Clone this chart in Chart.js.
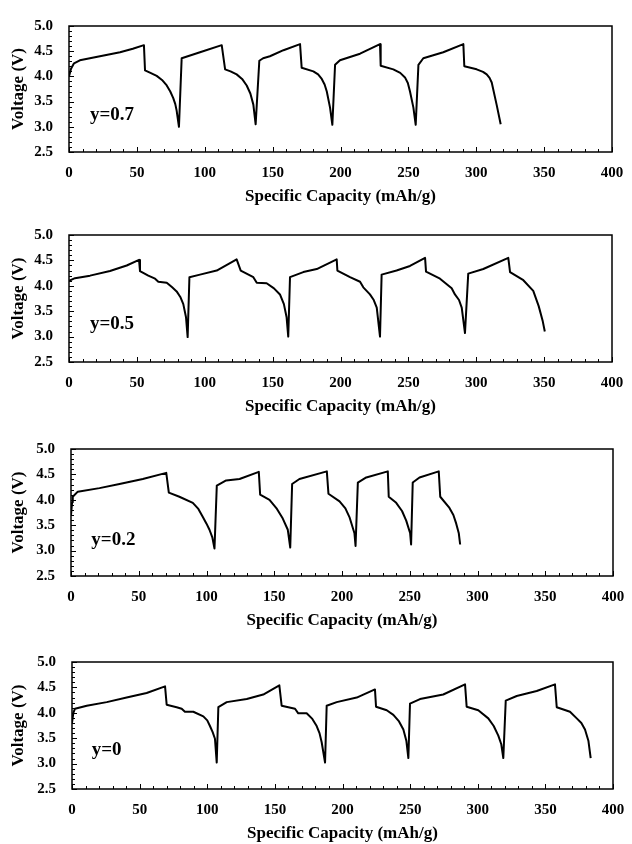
<!DOCTYPE html>
<html>
<head>
<meta charset="utf-8">
<script src="https://cdn.jsdelivr.net/npm/chart.js@4.4.1/dist/chart.umd.min.js"></script>
<style>
  body { margin: 0; background: #fff; width: 632px; height: 844px; position: relative; overflow: hidden; }
  .panel { position: absolute; left: 0; width: 632px; }
</style>
</head>
<body>
<div class="panel" id="box1"><canvas id="chart1"></canvas></div>
<div class="panel" id="box2"><canvas id="chart2"></canvas></div>
<div class="panel" id="box3"><canvas id="chart3"></canvas></div>
<div class="panel" id="box4"><canvas id="chart4"></canvas></div>
<script>
// valeurs : capacite (mAh/g) et tension (V)
const capY07 = [0, 1.5, 3.7, 8, 22.8, 37.6, 47, 55.2, 56, 60, 64.6, 68.5, 72, 74.6, 76.8, 78.3, 79.3, 81,
  83, 96.5, 112.5, 115, 119, 123.5, 127.5, 130.9, 133.6, 135.8, 137.5,
  140.2, 143, 148, 158, 170.2, 171.4, 180, 183.5, 186.2, 188.3, 189.9, 192.3, 194,
  196, 199.6, 214.4, 229.1, 229.6, 238.9, 244, 247.5, 249.6, 251.2, 253.7, 255.4,
  257.4, 261, 275.7, 290.5, 291.2, 300.3, 305, 307.7, 309.8, 311.4, 315, 318];
const voltY07 = [4.00, 4.15, 4.26, 4.32, 4.40, 4.48, 4.55, 4.62, 4.12, 4.07, 4.01, 3.93, 3.82, 3.70, 3.57, 3.45, 3.32, 3.00,
  4.36, 4.48, 4.62, 4.14, 4.10, 4.04, 3.95, 3.82, 3.66, 3.44, 3.05,
  4.31, 4.36, 4.40, 4.52, 4.64, 4.17, 4.10, 4.04, 3.95, 3.84, 3.70, 3.38, 3.04,
  4.23, 4.32, 4.45, 4.64, 4.21, 4.14, 4.07, 3.98, 3.87, 3.70, 3.38, 3.04,
  4.23, 4.36, 4.48, 4.64, 4.20, 4.14, 4.09, 4.04, 3.97, 3.88, 3.44, 3.05];

const capY05 = [0, 4.4, 15.5, 30.2, 42.5, 51.6, 52.3, 58.4, 63.4, 65.8, 72, 76, 79.3, 82, 84.2, 86.2, 87.4,
  88.7, 96.5, 108.8, 123.5, 126.5, 135.8, 138.3, 145.6, 151, 155.4, 158.3, 160.3, 161.5,
  162.8, 172.6, 182.5, 197.2, 197.7, 207, 214.4, 216.8, 221.7, 224.5, 226.7, 229.1,
  230.3, 241.3, 251.2, 262.3, 263, 273.3, 281.9, 284.3, 287.3, 289.3, 291.7,
  294.1, 305.2, 323.6, 324.9, 334.7, 342, 346, 349, 350.5];
const voltY05 = [4.10, 4.15, 4.20, 4.29, 4.40, 4.51, 4.29, 4.20, 4.14, 4.08, 4.06, 3.97, 3.89, 3.78, 3.64, 3.38, 2.99,
  4.17, 4.22, 4.30, 4.52, 4.30, 4.17, 4.06, 4.05, 3.95, 3.83, 3.64, 3.38, 3.00,
  4.17, 4.27, 4.33, 4.52, 4.30, 4.17, 4.08, 3.97, 3.83, 3.72, 3.57, 3.00,
  4.22, 4.30, 4.39, 4.55, 4.28, 4.14, 3.95, 3.83, 3.72, 3.57, 3.07,
  4.24, 4.33, 4.55, 4.27, 4.11, 3.90, 3.60, 3.30, 3.10];

const capY02 = [0, 0.8, 1.3, 5, 21, 35.8, 53, 70.3, 72.2, 80, 89.9, 94, 97.3, 100, 102.2, 104.3, 105.9,
  107.6, 114.5, 124.4, 138.6, 139.6, 146.5, 152, 156.3, 160, 161.8,
  163.2, 168.6, 188.8, 190, 198.2, 202.5, 205.5, 209.2, 210,
  211.7, 217.9, 233.8, 234.5, 240, 244.3, 247.4, 250.3, 251,
  252.2, 257.2, 271.4, 272.5, 279.3, 282.2, 284.3, 286.2, 287.2];
const voltY02 = [3.70, 3.95, 4.06, 4.16, 4.23, 4.31, 4.41, 4.53, 4.14, 4.06, 3.94, 3.82, 3.66, 3.53, 3.41, 3.26, 3.04,
  4.28, 4.38, 4.41, 4.55, 4.10, 4.00, 3.82, 3.63, 3.41, 3.06,
  4.31, 4.41, 4.56, 4.12, 3.97, 3.83, 3.66, 3.34, 3.09,
  4.34, 4.44, 4.56, 4.06, 3.94, 3.78, 3.59, 3.34, 3.12,
  4.34, 4.44, 4.56, 4.06, 3.84, 3.70, 3.53, 3.34, 3.12];

const capY0 = [0, 1, 2.2, 10.9, 25.7, 40.4, 55.2, 68.8, 70, 77.4, 81.1, 83.5, 89.7, 97.1, 100, 102, 104, 105.7, 107,
  108.2, 114.4, 129.2, 141.4, 153.3, 155, 164.9, 167.3, 173.5, 177.7, 180.9, 183, 184.6, 187.1,
  188.3, 195.7, 210.5, 224, 224.8, 232.7, 237.6, 241.8, 245, 247.2, 248.7,
  249.9, 257.3, 274.5, 290.6, 291.8, 300.4, 307.8, 311.8, 315.2, 317.4, 318.9,
  320.7, 328.8, 343.6, 357.1, 358.4, 368.2, 373.2, 376.6, 379.3, 381.8, 383.5];
const voltY0 = [3.80, 4.00, 4.08, 4.14, 4.21, 4.30, 4.39, 4.52, 4.16, 4.11, 4.08, 4.02, 4.02, 3.93, 3.85, 3.74, 3.62, 3.49, 3.02,
  4.11, 4.21, 4.27, 4.36, 4.54, 4.14, 4.08, 3.99, 3.99, 3.88, 3.74, 3.60, 3.42, 3.02,
  4.14, 4.21, 4.30, 4.46, 4.12, 4.05, 3.96, 3.83, 3.67, 3.45, 3.11,
  4.18, 4.27, 4.36, 4.56, 4.12, 4.05, 3.89, 3.74, 3.55, 3.38, 3.11,
  4.24, 4.33, 4.43, 4.56, 4.11, 4.02, 3.89, 3.80, 3.67, 3.45, 3.11];

// graduations
const capTicks = [0, 50, 100, 150, 200, 250, 300, 350, 400];
const voltTicks = [2.5, 3.0, 3.5, 4.0, 4.5, 5.0];
const panelLabels = ['y=0.7', 'y=0.5', 'y=0.2', 'y=0'];

const serif = 'Liberation Serif';

// position des cadres sur la page
const panels = [
  { top: 19, bottom: 152, left: 69, right: 612, cap: capY07, volt: voltY07, lx: 15.5, ly: 3.23 },
  { top: 228, bottom: 362, left: 69, right: 612, cap: capY05, volt: voltY05, lx: 15.5, ly: 3.24 },
  { top: 442, bottom: 576, left: 71, right: 613, cap: capY02, volt: voltY02, lx: 15, ly: 3.20 },
  { top: 655, bottom: 789, left: 72, right: 613, cap: capY0, volt: voltY0, lx: 14.6, ly: 3.26 }
];

// cadre, petits traits interieurs et etiquette y=...
const framePlugin = {
  id: 'frame',
  afterDatasetsDraw(chart, args, opts) {
    const ctx = chart.ctx;
    const a = chart.chartArea;
    const x = chart.scales.x;
    const y = chart.scales.y;
    ctx.save();
    ctx.strokeStyle = '#000';
    ctx.lineWidth = 1.5;
    ctx.strokeRect(a.left, a.top, a.right - a.left, a.bottom - a.top);
    ctx.lineWidth = 1;
    ctx.beginPath();
    for (let v = 0; v <= 400; v += 10) {
      const px = Math.round(x.getPixelForValue(v)) + 0.5;
      ctx.moveTo(px, a.bottom);
      ctx.lineTo(px, a.bottom - (v % 50 == 0 ? 5 : 3));
    }
    for (let k = 25; k <= 50; k++) {
      const py = Math.round(y.getPixelForValue(k / 10)) + 0.5;
      ctx.moveTo(a.left, py);
      ctx.lineTo(a.left + (k % 5 == 0 ? 5 : 3), py);
    }
    ctx.stroke();
    ctx.font = 'bold 19px "' + serif + '"';
    ctx.textBaseline = 'middle';
    ctx.fillStyle = '#000';
    ctx.fillText(opts.text, x.getPixelForValue(opts.lx), y.getPixelForValue(opts.ly));
    ctx.restore();
  }
};

for (let i = 0; i < panels.length; i++) {
  const p = panels[i];
  const box = document.getElementById('box' + (i + 1));
  const boxTop = p.top - 10;
  box.style.top = boxTop + 'px';
  box.style.height = (p.bottom + 56 - boxTop) + 'px';

  const points = [];
  for (let j = 0; j < p.cap.length; j++) {
    points.push({ x: p.cap[j], y: p.volt[j] });
  }

  new Chart(document.getElementById('chart' + (i + 1)), {
    type: 'scatter',
    data: {
      datasets: [{
        data: points,
        showLine: true,
        borderColor: '#000',
        borderWidth: 2,
        borderJoinStyle: 'round',
        pointRadius: 0,
        tension: 0,
        fill: false
      }]
    },
    options: {
      responsive: true,
      maintainAspectRatio: false,
      animation: false,
      layout: { padding: { top: 10, right: 632 - p.right, bottom: 0, left: 0 } },
      plugins: {
        legend: { display: false },
        tooltip: { enabled: false },
        frame: { text: panelLabels[i], lx: p.lx, ly: p.ly }
      },
      scales: {
        x: {
          type: 'linear',
          min: 0,
          max: 400,
          grid: { display: false },
          border: { display: false },
          afterBuildTicks: (s) => { s.ticks = capTicks.map(v => ({ value: v })); },
          afterFit: (s) => { s.height = 56; },
          ticks: {
            font: { family: serif, size: 15, weight: 'bold' },
            color: '#000',
            padding: 4,
            maxRotation: 0,
            autoSkip: false
          },
          title: {
            display: true,
            text: 'Specific Capacity (mAh/g)',
            font: { family: serif, size: 17, weight: 'bold' },
            color: '#000',
            padding: { top: 0, bottom: 1 }
          }
        },
        y: {
          type: 'linear',
          min: 2.5,
          max: 5,
          grid: { display: false },
          border: { display: false },
          afterBuildTicks: (s) => { s.ticks = voltTicks.map(v => ({ value: v })); },
          afterFit: (s) => { s.width = p.left; },
          ticks: {
            font: { family: serif, size: 15, weight: 'bold' },
            color: '#000',
            padding: 8,
            callback: (v) => Number(v).toFixed(1)
          },
          title: {
            display: true,
            text: 'Voltage (V)',
            font: { family: serif, size: 17, weight: 'bold' },
            color: '#000',
            padding: { top: 8, bottom: 0 }
          }
        }
      }
    },
    plugins: [framePlugin]
  });
}
</script>
</body>
</html>
